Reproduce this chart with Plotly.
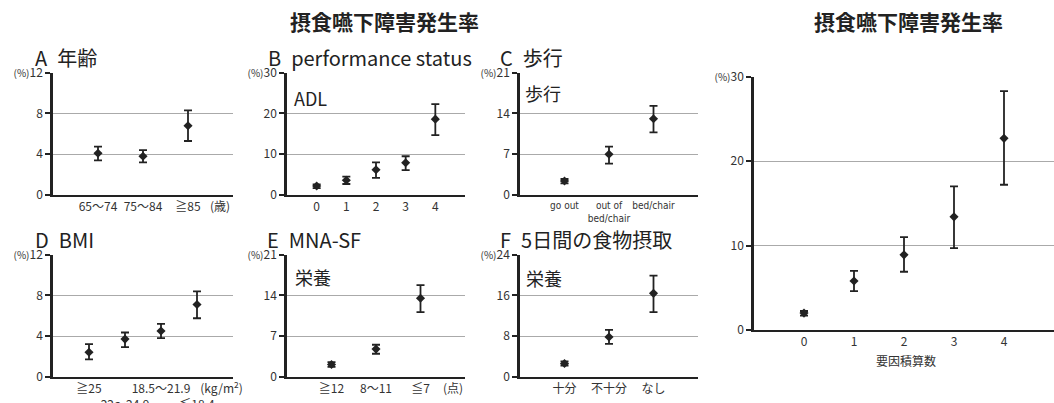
import plotly.graph_objects as go

W, H = 1054, 403

# ---------------- data ----------------
A_cats = ["65～74", "75～84", "≧85"]
A_val = [4.1, 3.8, 6.8]
A_hi = [4.75, 4.4, 8.3]
A_lo = [3.4, 3.2, 5.3]
A_unit = "(歳)"

B_cats = ["0", "1", "2", "3", "4"]
B_val = [2.2, 3.6, 6.2, 7.9, 18.6]
B_hi = [2.6, 4.5, 8.0, 9.5, 22.3]
B_lo = [1.7, 2.7, 4.2, 6.1, 14.7]

C_cats = ["go out", "out of<br>bed/chair", "bed/chair"]
C_val = [2.4, 7.0, 13.1]
C_hi = [2.75, 8.3, 15.3]
C_lo = [2.0, 5.4, 10.75]

D_cats = ["≧25", "<br>22～24.9", "18.5～21.9", "<br>≦18.4"]
D_val = [2.4, 3.7, 4.5, 7.1]
D_hi = [3.2, 4.35, 5.2, 8.4]
D_lo = [1.7, 2.9, 3.8, 5.75]
D_unit = "(kg/m<sup>2</sup>)"

E_cats = ["≧12", "8～11", "≦7"]
E_val = [2.1, 4.75, 13.5]
E_hi = [2.5, 5.5, 15.75]
E_lo = [1.7, 3.95, 11.1]
E_unit = "(点)"

F_cats = ["十分", "不十分", "なし"]
F_val = [2.6, 7.8, 16.4]
F_hi = [3.0, 9.2, 19.9]
F_lo = [2.2, 6.45, 12.7]

R_cats = ["0", "1", "2", "3", "4"]
R_val = [2.0, 5.8, 8.9, 13.4, 22.7]
R_hi = [2.25, 7.0, 11.0, 17.0, 28.3]
R_lo = [1.7, 4.6, 6.9, 9.7, 17.2]

A_yt = [0, 4, 8, 12]
B_yt = [0, 10, 20, 30]
C_yt = [0, 7, 14, 21]
D_yt = [0, 4, 8, 12]
E_yt = [0, 7, 14, 21]
F_yt = [0, 8, 16, 24]
R_yt = [0, 10, 20, 30]

titles = ["A\u2002年齢", "B\u2002performance status", "C\u2002歩行",
          "D\u2002BMI", "E\u2002MNA-SF", "F\u20025日間の食物摂取"]
inner = [None, "ADL", "歩行", None, "栄養", "栄養"]
main_title = "摂食嚥下障害発生率"
R_xtitle = "要因積算数"

FONT = "Noto Sans CJK JP, Noto Sans, sans-serif"
NARROW = "DejaVu Sans Condensed, Liberation Sans Narrow, Noto Sans, sans-serif"
DARK = "#222222"
GRID = "#aaaaaa"

# ---------------- layout geometry (pixels) ----------------
def xd(l, r):
    return [l / W, r / W]

def yd(t, b):
    return [1 - b / H, 1 - t / H]

panels = [
    dict(c=A_cats, v=A_val, hi=A_hi, lo=A_lo, yt=A_yt, x0=1, xr=[0, 4], xd=xd(53, 233), yd=yd(72.7, 195), unit=A_unit, up=3.71),
    dict(c=B_cats, v=B_val, hi=B_hi, lo=B_lo, yt=B_yt, x0=0, xr=[-1, 5], xd=xd(287, 465), yd=yd(72.7, 195), unit=None, up=None),
    dict(c=C_cats, v=C_val, hi=C_hi, lo=C_lo, yt=C_yt, x0=1, xr=[0, 4], xd=xd(520, 698), yd=yd(72.7, 195), unit=None, up=None),
    dict(c=D_cats, v=D_val, hi=D_hi, lo=D_lo, yt=D_yt, x0=1, xr=[0, 5], xd=xd(53, 233), yd=yd(254.7, 376.7), unit=D_unit, up=4.68),
    dict(c=E_cats, v=E_val, hi=E_hi, lo=E_lo, yt=E_yt, x0=1, xr=[0, 4], xd=xd(287, 465), yd=yd(254.7, 376.7), unit=E_unit, up=3.73),
    dict(c=F_cats, v=F_val, hi=F_hi, lo=F_lo, yt=F_yt, x0=1, xr=[0, 4], xd=xd(520, 698), yd=yd(254.7, 376.7), unit=None, up=None),
    dict(c=R_cats, v=R_val, hi=R_hi, lo=R_lo, yt=R_yt, x0=0, xr=[-1, 5], xd=xd(754, 1054), yd=yd(76.7, 330), unit=None, up=None),
]

fig = go.Figure()
layout = dict(
    width=W, height=H, margin=dict(l=0, r=0, t=0, b=0, autoexpand=False),
    paper_bgcolor="white", plot_bgcolor="white",
    showlegend=False, font=dict(family=FONT, color=DARK),
)
annotations = []

for i, p in enumerate(panels):
    n = i + 1
    sx = "" if n == 1 else str(n)
    xs = [p["x0"] + k for k in range(len(p["c"]))]
    fig.add_trace(go.Scatter(
        x=xs, y=p["v"], mode="markers",
        marker=dict(symbol="diamond", size=7, color=DARK),
        error_y=dict(type="data", symmetric=False,
                     array=[h - v for h, v in zip(p["hi"], p["v"])],
                     arrayminus=[v - l for v, l in zip(p["v"], p["lo"])],
                     width=4, thickness=1.8, color=DARK),
        xaxis="x" + sx, yaxis="y" + sx, cliponaxis=False, hoverinfo="skip",
    ))
    tv = list(xs)
    tt = list(p["c"])
    if p["unit"]:
        tv.append(p["up"])
        tt.append(p["unit"])
    yt_text = [str(t) for t in p["yt"]]
    yt_text[-1] = "<span style='font-size:10px'>(%)</span>" + yt_text[-1]
    tickfont = dict(size=12, color="#333333", family=FONT)
    if i == 2:
        tickfont = dict(size=10, color="#333333", family=NARROW)
    xa = dict(domain=p["xd"], range=p["xr"], anchor="y" + sx,
              showgrid=False, zeroline=False, showline=True, linecolor=DARK, linewidth=2,
              tickmode="array", tickvals=tv, ticktext=tt, ticks="", tickangle=0,
              tickfont=tickfont, fixedrange=True, automargin=False)
    ya = dict(domain=p["yd"], range=[0, p["yt"][-1]], anchor="x" + sx,
              showgrid=True, gridcolor=GRID, gridwidth=1, zeroline=False,
              showline=True, linecolor=DARK, linewidth=2.5,
              tickmode="array", tickvals=p["yt"], ticktext=yt_text,
              ticks="outside", ticklen=5, tickcolor=DARK, tickwidth=1.5,
              tickfont=dict(size=12, color="#333333"), fixedrange=True, automargin=False)
    layout["xaxis" + sx] = xa
    layout["yaxis" + sx] = ya

# panel titles
title_pos = [(33, 57), (266, 57), (498, 57), (33, 239), (265, 239), (498, 239)]
for (x, y), t in zip(title_pos, titles):
    annotations.append(dict(text=t, x=x / W, y=1 - y / H, xref="paper", yref="paper",
                            xanchor="left", yanchor="middle", showarrow=False,
                            font=dict(size=20, color=DARK)))

inner_pos = [None, (292, 98), (523, 93), None, (293, 277), (524, 278)]
for pos, t in zip(inner_pos, inner):
    if t is None:
        continue
    annotations.append(dict(text=t, x=pos[0] / W, y=1 - pos[1] / H, xref="paper", yref="paper",
                            xanchor="left", yanchor="middle", showarrow=False,
                            font=dict(size=18, color=DARK)))

for cx in (384, 908):
    annotations.append(dict(text="<b>" + main_title + "</b>", x=cx / W, y=1 - 21 / H, xref="paper", yref="paper",
                            xanchor="center", yanchor="middle", showarrow=False,
                            font=dict(size=21, color=DARK)))

# x-axis title of right panel
annotations.append(dict(text=R_xtitle, x=906 / W, y=1 - 360 / H, xref="paper", yref="paper",
                        xanchor="center", yanchor="middle", showarrow=False,
                        font=dict(size=12, color="#333333")))

layout["annotations"] = annotations
fig.update_layout(**layout)
fig.write_html("out.html", config={"displayModeBar": False},
               post_script="document.body.style.margin='0';")
